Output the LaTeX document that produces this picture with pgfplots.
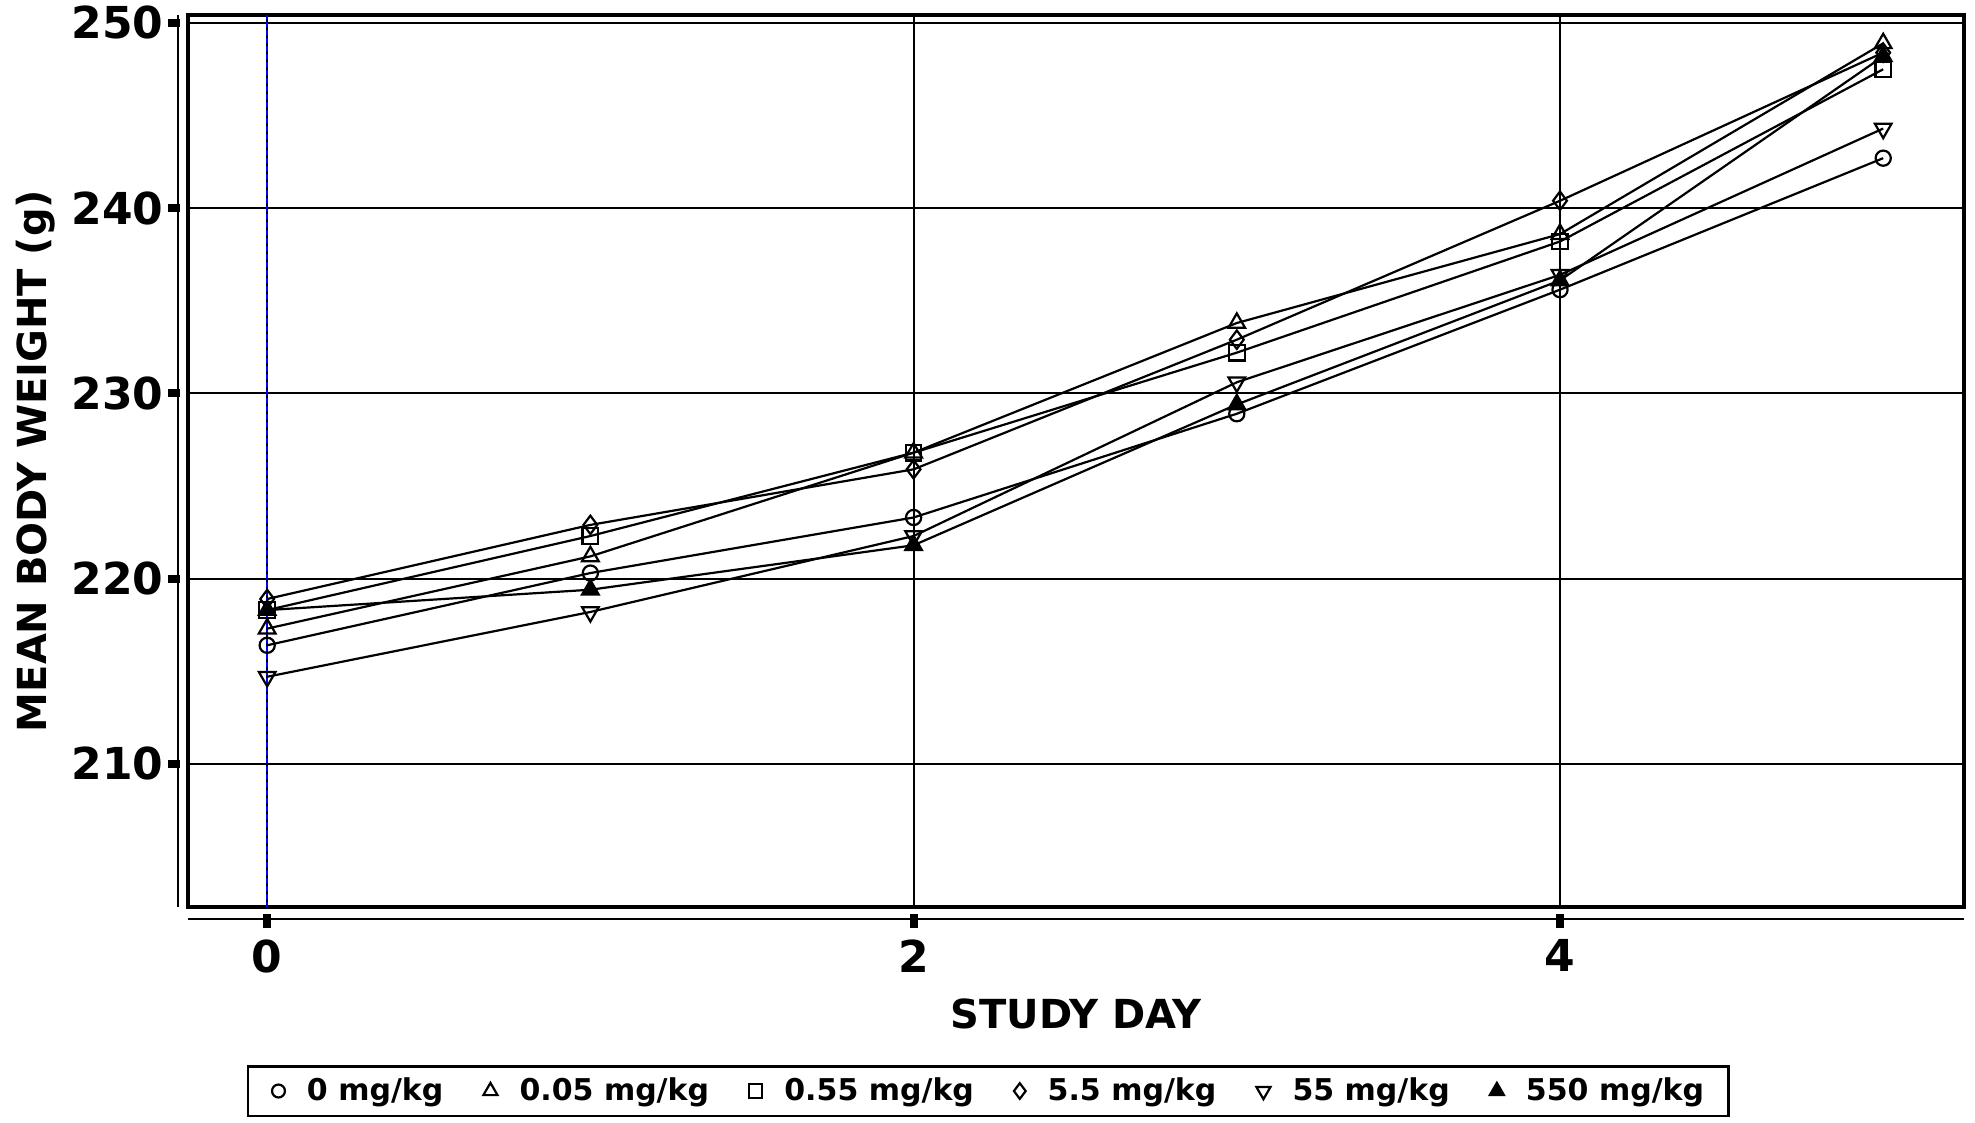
\documentclass[border=0pt]{standalone}
\usepackage{fontspec}
\setmainfont{DejaVu Sans}
\usepackage{pgfplots}
\pgfplotsset{compat=1.18}

% body weight by study day, one series per dose group
\pgfplotstableread{
day  d0     d005   d055   d55    d550   d5500
0    216.4  217.3  218.3  218.9  214.7  218.3
1    220.3  221.2  222.3  222.9  218.2  219.4
2    223.3  226.8  226.8  225.9  222.3  221.8
3    228.9  233.8  232.2  232.9  230.6  229.4
4    235.6  238.6  238.2  240.4  236.4  236.1
5    242.7  248.9  247.5  248.4  244.3  248.2
}\bw

\begin{document}
\begin{tikzpicture}
\useasboundingbox (-94bp,-108bp) rectangle (893.5bp,453.5bp);
\begin{axis}[
    scale only axis,
    width=888bp, height=446bp,
    xmin=-0.245, xmax=5.25,
    ymin=202.27, ymax=250.43,
    xtick={0,2,4}, ytick={210,220,230,240,250},
    major tick length=0pt,
    grid=major,
    grid style={black, line width=1bp},
    axis line style={line width=2.2bp},
    clip=false,
    /pgf/number format/assume math mode=true,
    tick label style={font=\bfseries\fontsize{22bp}{24bp}\selectfont, inner sep=0pt},
    yticklabel style={anchor=east, xshift=-12bp},
    xticklabel style={anchor=north, yshift=-16bp},
    legend columns=6,
    legend style={
        at={(axis description cs:0.4505,-0.2063)}, anchor=center,
        draw=black, line width=1.4bp,
        inner xsep=12bp, inner ysep=6bp,
        font=\bfseries\fontsize{15bp}{17bp}\selectfont,
        nodes={inner sep=0pt},
        /tikz/every odd column/.append style={column sep=11bp},
        /tikz/every even column/.append style={column sep=20bp},
    },
    legend image code/.code={
        \draw[#1, /tikz/every mark/.append style={scale=0.85}] plot coordinates {(3.5bp,0bp)};
    },
    every axis plot/.append style={black, line width=1.1bp, mark options={solid}},
]
% x = 0 reference line, blue with black dashes
\draw[blue, line width=1bp, dash pattern=on 2.5bp off 1.5bp]
    (axis cs:0,202.27) -- (axis cs:0,250.43);
% detached thin axis lines with their ticks
\draw[line width=0.7bp] ([xshift=-5bp]rel axis cs:0,0) -- ([xshift=-5bp]rel axis cs:0,1);
\draw[line width=0.7bp] ([yshift=-6bp]rel axis cs:0,0) -- ([yshift=-6bp]rel axis cs:1,0);
\pgfplotsinvokeforeach{210,220,230,240,250}{
    \draw[line width=4bp] ([xshift=-10bp]axis cs:-0.245,#1) -- ([xshift=-4bp]axis cs:-0.245,#1);
}
\pgfplotsinvokeforeach{0,2,4}{
    \draw[line width=4bp] ([yshift=-3.5bp]axis cs:#1,202.27) -- ([yshift=-10.5bp]axis cs:#1,202.27);
}

\addplot[mark=o, mark size=3.8bp] table[x=day, y=d0] {\bw};
\addlegendentry{0 mg/kg}
\addplot[mark=triangle, mark size=4.8bp] table[x=day, y=d005] {\bw};
\addlegendentry{0.05 mg/kg}
\addplot[mark=square, mark size=3.9bp] table[x=day, y=d055] {\bw};
\addlegendentry{0.55 mg/kg}
\addplot[mark=diamond, mark size=4.6bp] table[x=day, y=d55] {\bw};
\addlegendentry{5.5 mg/kg}
\addplot[mark=triangle, mark size=4.8bp, mark options={solid, rotate=180}] table[x=day, y=d550] {\bw};
\addlegendentry{55 mg/kg}
\addplot[mark=triangle*, mark size=4.8bp, mark options={solid, fill=black}] table[x=day, y=d5500] {\bw};
\addlegendentry{550 mg/kg}
\end{axis}
\node[rotate=90, font=\bfseries\fontsize{20bp}{22bp}\selectfont] at (-76bp,223bp) {MEAN BODY WEIGHT (g)};
\node[font=\bfseries\fontsize{20bp}{22bp}\selectfont] at (444bp,-53.5bp) {STUDY DAY};
\end{tikzpicture}
\end{document}
